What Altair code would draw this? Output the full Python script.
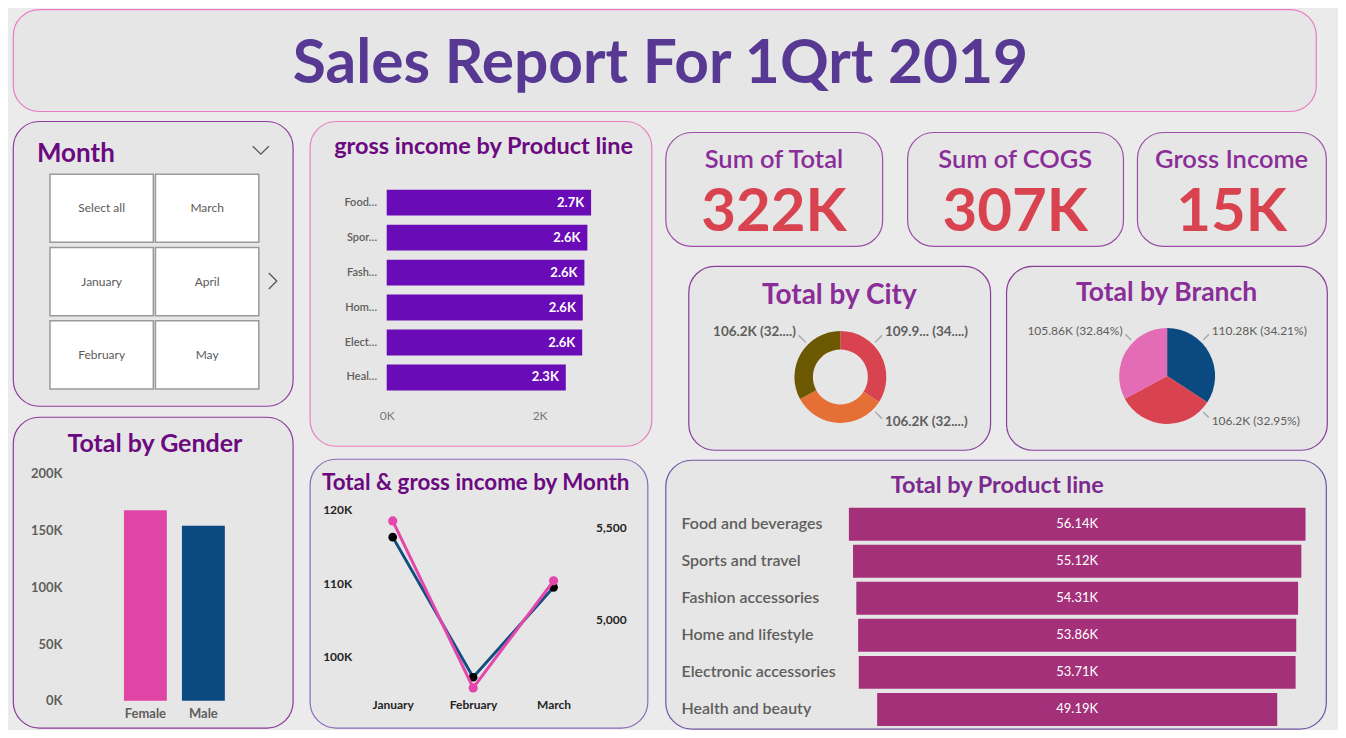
import altair as alt
import pandas as pd

FONT = "Lato"
BG = "#ebebeb"
CARD_FILL = "#e6e6e6"
DARK_PURPLE = "#6b0a80"
MID_PURPLE = "#8a2d98"
LABEL_GREY = "#605e5c"

# ---------------- data ----------------
report_title = "Sales Report For 1Qrt 2019"
slicer_title = "Month"
slicer_items = ["Select all", "January", "February", "March", "April", "May"]

product_lines = ["Food and beverages", "Sports and travel", "Fashion accessories",
                 "Home and lifestyle", "Electronic accessories", "Health and beauty"]
gross_income_product = [2673.6, 2624.9, 2586.0, 2564.9, 2557.3, 2342.6]
total_product = [56140, 55120, 54310, 53860, 53710, 49190]

genders = ["Female", "Male"]
total_gender = [167882.9, 154193.0]

months = ["January", "February", "March"]
total_month = [116291.9, 97219.4, 109455.5]
gross_month = [5537.7, 4629.5, 5212.2]

kpi_names = ["Sum of Total", "Sum of COGS", "Gross Income"]
kpi_values = [322000, 307000, 15000]

cities = ["Naypyitaw", "Yangon", "Mandalay"]
total_city = [109940, 106200, 106200]

branches = ["C", "A", "B"]
total_branch = [110280, 106200, 105860]

card_titles = {
    "gross": "gross income by Product line",
    "gender": "Total by Gender",
    "month": "Total & gross income by Month",
    "city": "Total by City",
    "branch": "Total by Branch",
    "product": "Total by Product line",
}


# ---------------- helpers ----------------
def view_bg(stroke, width=1.2):
    return alt.ViewBackground(fill=CARD_FILL, stroke=stroke, strokeWidth=width, cornerRadius=26)


def text_layer(text, x, y, size, color, weight="bold", align="center"):
    return alt.Chart(pd.DataFrame({"t": [text]})).mark_text(
        align=align, baseline="middle", fontSize=size, fontWeight=weight, color=color
    ).encode(x=alt.value(x), y=alt.value(y), text="t:N")


def spacer(w, h):
    return alt.Chart(pd.DataFrame({"a": [0]})).mark_rect(opacity=0).encode(
        x=alt.value(0), x2=alt.value(w), y=alt.value(0), y2=alt.value(h)
    ).properties(width=w, height=h,
                 view=alt.ViewBackground(fill="transparent", stroke="transparent", strokeWidth=0))


def glyph(path, x, y):
    return alt.Chart(pd.DataFrame({"a": [0]})).mark_point(
        shape=path, filled=False, size=256, color="#555555", strokeWidth=1.3, opacity=1
    ).encode(x=alt.value(x), y=alt.value(y))


# ---------------- title card ----------------
title_card = alt.layer(
    text_layer(report_title, 648, 56, 60.5, "#573892")
).properties(width=1304, height=102, view=view_bg("#ea7cc4"))

# ---------------- month slicer ----------------
slicer_base = alt.Chart(pd.DataFrame({"item": slicer_items})).transform_window(
    rn="row_number()"
).transform_calculate(col="floor((datum.rn - 1) / 3)", row="(datum.rn - 1) % 3")
xs = alt.X("col:O", scale=alt.Scale(range=[37, 246], paddingInner=0.02, paddingOuter=0), axis=None)
ys = alt.Y("row:O", scale=alt.Scale(range=[53, 268], paddingInner=0.07, paddingOuter=0), axis=None)
cells = slicer_base.mark_rect(fill="white", stroke="#9a9a9a", strokeWidth=1.5).encode(x=xs, y=ys)
cell_text = slicer_base.mark_text(fontSize=12, color="#5a5a5a").encode(x=xs, y=ys, text="item:N")
slicer = alt.layer(
    cells, cell_text,
    text_layer(slicer_title, 24, 33, 26, DARK_PURPLE, align="left"),
    glyph("M -1 -0.5 L 0 0.5 L 1 -0.5", 248, 29),
    glyph("M -0.5 -1 L 0.5 0 L -0.5 1", 260, 160),
).properties(width=280, height=285, view=view_bg("#8e3f9c"))

# ---------------- gender ----------------
gdf = pd.DataFrame({"gender": genders, "total": total_gender})
gender_bars = alt.Chart(gdf).mark_bar().encode(
    x=alt.X("gender:N", sort=genders,
            scale=alt.Scale(range=[111, 212], paddingInner=0.26, paddingOuter=0),
            axis=alt.Axis(title=None, orient="bottom", offset=-27, labelAngle=0, labelPadding=7,
                          labelFontSize=13, labelFontWeight="bold", labelColor=LABEL_GREY,
                          domain=False, ticks=False, tickSize=0)),
    y=alt.Y("total:Q", scale=alt.Scale(domain=[0, 200000], range=[284, 57], nice=False),
            axis=alt.Axis(title=None, orient="left", offset=-49,
                          values=[0, 50000, 100000, 150000, 200000],
                          labelExpr="datum.value / 1000 + 'K'", labelPadding=0,
                          labelFontSize=13, labelFontWeight="bold", labelColor=LABEL_GREY,
                          domain=False, ticks=False, tickSize=0, grid=False)),
    color=alt.Color("gender:N", scale=alt.Scale(domain=genders, range=["#e045a6", "#0b4a80"]),
                    legend=None),
)
gender = alt.layer(
    gender_bars, text_layer(card_titles["gender"], 142, 27, 25, DARK_PURPLE)
).properties(width=280, height=311, view=view_bg("#8a3a98"))

# ---------------- gross income by product line ----------------
gpdf = pd.DataFrame({"line": product_lines, "gi": gross_income_product})
y_g = alt.Y("line:N", sort=product_lines,
            scale=alt.Scale(range=[64, 274], paddingInner=0.26, paddingOuter=0.13),
            axis=alt.Axis(title=None, orient="left", offset=-67, labelPadding=0, tickSize=0,
                          ticks=False, domain=False, labelLimit=33, labelFontSize=11,
                          labelColor=LABEL_GREY, labelFontWeight=600))
x_g = alt.X("gi:Q", scale=alt.Scale(domain=[0, 3000], range=[77, 306.5], nice=False),
            axis=alt.Axis(title=None, orient="bottom", offset=-38, values=[0, 2000],
                          labelExpr="datum.value / 1000 + 'K'", labelPadding=3, tickSize=0,
                          ticks=False, domain=False, grid=False, labelFontSize=12,
                          labelFlush=False, labelColor="#777777"))
gbase = alt.Chart(gpdf).transform_calculate(lab="format(datum.gi / 1000, '.1f') + 'K'")
gross_bars = gbase.mark_bar(color="#6a0bb8").encode(x=x_g, y=y_g)
gross_text = gbase.mark_text(align="right", dx=-7, color="white", fontWeight="bold",
                             fontSize=13).encode(x=x_g, y=y_g, text="lab:N")
gross = alt.layer(
    gross_bars, gross_text, text_layer(card_titles["gross"], 174, 26, 23.5, DARK_PURPLE)
).properties(width=342, height=325, view=view_bg("#e880c0"))

# ---------------- total & gross income by month ----------------
mbase = alt.Chart(pd.DataFrame({"month": months, "total": total_month, "gross": gross_month}))
x_m = alt.X("month:N", sort=months, scale=alt.Scale(type="point", range=[83, 244], padding=0),
            axis=alt.Axis(title=None, orient="bottom", offset=-31, labelAngle=0, labelPadding=3,
                          tickSize=0, ticks=False, domain=False, labelFontSize=12,
                          labelFontWeight="bold", labelColor="#252423"))
sc_total = alt.Scale(domain=[95000, 120000], range=[234.75, 51], nice=False, zero=False)
sc_gross = alt.Scale(domain=[4500, 5600], range=[253, 50.6], nice=False, zero=False)
ax_total = alt.Axis(title=None, orient="left", offset=-42, values=[100000, 110000, 120000],
                    labelExpr="datum.value / 1000 + 'K'", labelPadding=0, tickSize=0,
                    ticks=False, domain=False, grid=False, labelFontSize=12,
                    labelFontWeight="bold", labelColor="#252423")
ax_gross = alt.Axis(title=None, orient="right", offset=-52, values=[5000, 5500],
                    labelExpr="format(datum.value, ',')",
                    labelPadding=0, tickSize=0, ticks=False, domain=False, grid=False,
                    labelFontSize=12, labelFontWeight="bold", labelColor="#252423")
l_total = mbase.mark_line(color="#124e80", strokeWidth=3).encode(
    x=x_m, y=alt.Y("total:Q", scale=sc_total, axis=ax_total))
p_total = mbase.mark_point(filled=True, color="black", size=75, opacity=1).encode(
    x=x_m, y=alt.Y("total:Q", scale=sc_total, axis=None))
l_gross = mbase.mark_line(color="#e446ab", strokeWidth=3).encode(
    x=x_m, y=alt.Y("gross:Q", scale=sc_gross, axis=ax_gross))
p_gross = mbase.mark_point(filled=True, color="#e446ab", size=85, opacity=1).encode(
    x=x_m, y=alt.Y("gross:Q", scale=sc_gross, axis=None))
month_chart = alt.layer(
    l_total, p_total, l_gross, p_gross,
    text_layer(card_titles["month"], 166, 24, 22.4, DARK_PURPLE)
).resolve_scale(y="independent").properties(width=338, height=269, view=view_bg("#8a6bb8"))

# ---------------- KPI cards ----------------
kdf = pd.DataFrame({"name": kpi_names, "value": kpi_values})


def kpi_card(i, w):
    base = alt.Chart(kdf).transform_filter(alt.datum.name == kpi_names[i]).transform_calculate(
        lab="format(datum.value / 1000, 'd') + 'K'")
    t = base.mark_text(fontSize=25.5, fontWeight=600, color=MID_PURPLE).encode(
        x=alt.value(w / 2), y=alt.value(28), text="name:N")
    v = base.mark_text(fontSize=60, fontWeight="bold", color="#d9434f").encode(
        x=alt.value(w / 2), y=alt.value(81), text="lab:N")
    return alt.layer(t, v).properties(width=w, height=114, view=view_bg("#9b4fa6"))


kpis = alt.hconcat(
    alt.hconcat(kpi_card(0, 217), kpi_card(1, 216), spacing=23),
    kpi_card(2, 189), spacing=12)


# ---------------- pie cards ----------------
def pie_card(names, values, colors, title, w, cx, cy, tx, ty, tsize, outer, inner,
             truncate, weight, lsize):
    base = alt.Chart(pd.DataFrame({"name": names, "v": values})).transform_window(
        idx="row_number()"
    ).transform_joinaggregate(total="sum(v)").transform_window(
        cum="sum(v)", sort=[alt.SortField("idx")]
    ).transform_calculate(
        mid="(datum.cum - datum.v / 2) / datum.total * 2 * PI",
        vs="format(datum.v / 1000, '.2~f') + 'K'",
        ps="format(datum.v / datum.total, '.2%')",
    ).transform_calculate(
        right="datum.mid < 3.5",
        top="cos(datum.mid) > 0",
    ).transform_calculate(
        lt="datum.right ? (datum.top ? PI / 4 : 3 * PI / 4) : (datum.top ? 7 * PI / 4 : 5 * PI / 4)",
        lab=("(length(datum.vs) > 6 ? substring(datum.vs, 0, 5) + '...' : datum.vs) + ' (' + "
             "substring(datum.ps, 0, 3) + '...)'") if truncate else
            "datum.vs + ' (' + datum.ps + ')'",
    ).transform_calculate(
        l0="datum.lt - 0.014", l1="datum.lt + 0.014",
    )
    arc = base.mark_arc(outerRadius=outer, innerRadius=inner).encode(
        theta=alt.Theta("v:Q", stack=True),
        order=alt.Order("idx:Q"),
        color=alt.Color("name:N", scale=alt.Scale(domain=names, range=colors), legend=None),
        x=alt.value(cx), y=alt.value(cy),
    )
    leader = base.mark_arc(outerRadius=59, innerRadius=outer + 3, color="#ababab").encode(
        theta=alt.Theta("l0:Q", scale=None), theta2="l1:Q", x=alt.value(cx), y=alt.value(cy))
    lab_r = base.transform_filter("datum.right").mark_text(
        align="left", radius=63, fontSize=lsize, fontWeight=weight, color=LABEL_GREY
    ).encode(theta=alt.Theta("lt:Q", scale=None), x=alt.value(cx), y=alt.value(cy), text="lab:N")
    lab_l = base.transform_filter("!datum.right").mark_text(
        align="right", radius=63, fontSize=lsize, fontWeight=weight, color=LABEL_GREY
    ).encode(theta=alt.Theta("lt:Q", scale=None), x=alt.value(cx), y=alt.value(cy), text="lab:N")
    return alt.layer(
        arc, leader, lab_r, lab_l, text_layer(title, tx, ty, tsize, MID_PURPLE)
    ).properties(width=w, height=184, view=view_bg("#8a3d9a"))


city = pie_card(cities, total_city, ["#d9434f", "#e56f34", "#6b5800"], card_titles["city"],
                302, 152, 111, 151, 30, 28, 46, 27.5, True, "bold", 13.5)
branch = pie_card(branches, total_branch, ["#0b4a80", "#d9434f", "#e46bb6"], card_titles["branch"],
                  321, 161, 110, 160.5, 27, 26.5, 48, 0, False, "normal", 12)
pies = alt.hconcat(
    alt.hconcat(spacer(4, 184), city, spacing=18).resolve_scale(color="independent"),
    branch, spacing=14).resolve_scale(color="independent")

# ---------------- total by product line (funnel) ----------------
pbase = alt.Chart(pd.DataFrame({"line": product_lines, "total": total_product})).transform_calculate(
    lo="-datum.total / 2", hi="datum.total / 2",
    lab="format(datum.total / 1000, '.2f') + 'K'")
x_p = alt.X("lo:Q", scale=alt.Scale(domain=[-30000, 30000], range=[167.8, 656.2], nice=False,
                                    zero=False), axis=None)
y_p = alt.Y("line:N", sort=product_lines,
            scale=alt.Scale(range=[46, 268], paddingInner=0.11, paddingOuter=0.05), axis=None)
p_bars = pbase.mark_bar(color="#a5307a").encode(x=x_p, x2="hi:Q", y=y_p)
p_vals = pbase.mark_text(color="white", fontSize=13).encode(x=alt.datum(0), y=y_p, text="lab:N")
p_cats = pbase.mark_text(align="left", fontSize=16, fontWeight=600, color=LABEL_GREY).encode(
    x=alt.value(16), y=y_p, text="line:N")
product = alt.layer(
    p_bars, p_vals, p_cats, text_layer(card_titles["product"], 332, 26, 23.5, "#7b2a8e")
).properties(width=661, height=269, view=view_bg("#6f55a3"))

# ---------------- layout ----------------
colA = alt.vconcat(slicer, gender, spacing=9).resolve_scale(color="independent")
colB = alt.vconcat(gross, month_chart, spacing=11)
upper = alt.vconcat(kpis, pies, spacing=18).resolve_scale(color="independent")
inner = alt.vconcat(upper, product, spacing=8).resolve_scale(color="independent")
colC = alt.vconcat(spacer(661, 1), inner, spacing=9).resolve_scale(color="independent")
left = alt.hconcat(colA, colB, spacing=15).resolve_scale(color="independent")
body = alt.hconcat(left, colC, spacing=12).resolve_scale(color="independent")

chart = alt.vconcat(title_card, body, spacing=8).resolve_scale(color="independent").properties(
    padding={"left": 4, "top": 0, "right": 10, "bottom": 0},
    background=BG,
).configure(font=FONT)

chart.save("out.html", embed_options={"renderer": "svg", "actions": False})
